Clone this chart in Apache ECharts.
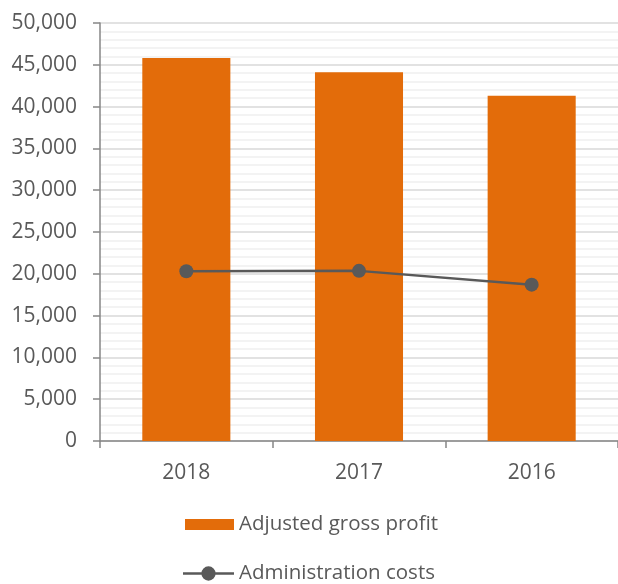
<!DOCTYPE html>
<html><head><meta charset="utf-8">
<script src="https://cdn.jsdelivr.net/npm/echarts@6/dist/echarts.min.js"></script>
<style>html,body{margin:0;padding:0;background:#fff}#c{width:618px;height:584px}</style>
</head><body><div id="c"></div>
<script>
var categories = ['2018', '2017', '2016'];
var grossProfit = [45800, 44100, 41300];
var adminCosts = [20300, 20350, 18700];
var seriesNames = ['Adjusted gross profit', 'Administration costs'];

var font = 'Open Sans';
var txt = '#595959';
var lineIcon = 'path://M0,6.3 L50,6.3 L50,8.7 L0,8.7 Z M18,7.5 A7,7 0 1,1 32,7.5 A7,7 0 1,1 18,7.5 Z';
var chart = echarts.init(document.getElementById('c'));
chart.setOption({
  animation: false,
  textStyle: {fontFamily: font},
  grid: {left: 100, right: 0, top: 23, bottom: 143, containLabel: false},
  legend: [
    {
      left: 180, top: 509, itemWidth: 49, itemHeight: 11, itemGap: 6,
      textStyle: {color: txt, fontSize: 20.5, fontFamily: font},
      data: [{name: seriesNames[0], icon: 'rect'}]
    },
    {
      left: 178, top: 558, itemWidth: 51, itemHeight: 15, itemGap: 6,
      textStyle: {color: txt, fontSize: 20.5, fontFamily: font},
      data: [{name: seriesNames[1], icon: lineIcon}]
    }
  ],
  xAxis: {
    type: 'category', data: categories, boundaryGap: true,
    axisLine: {lineStyle: {color: '#868686', width: 1.5}},
    axisTick: {show: true, alignWithLabel: false, length: 7, lineStyle: {color: '#868686', width: 1.5}},
    axisLabel: {color: txt, fontSize: 21, margin: 22}
  },
  yAxis: {
    type: 'value', min: 0, max: 50000, interval: 5000,
    axisLine: {show: true, lineStyle: {color: '#868686', width: 1.5}},
    axisTick: {show: true, length: 7, lineStyle: {color: '#868686', width: 1.5}},
    axisLabel: {color: txt, fontSize: 21, margin: 23,
      formatter: function (v) { return v.toLocaleString('en-US'); }},
    splitLine: {lineStyle: {color: '#d9d9d9', width: 1.5}},
    minorTick: {show: false, splitNumber: 5},
    minorSplitLine: {show: true, lineStyle: {color: '#efefef', width: 1.5}}
  },
  series: [
    {name: seriesNames[0], type: 'bar', data: grossProfit, barWidth: '51%',
      itemStyle: {color: '#e36c0a'}},
    {name: seriesNames[1], type: 'line', data: adminCosts,
      symbol: 'circle', symbolSize: 14,
      lineStyle: {color: '#595959', width: 2.5},
      itemStyle: {color: '#595959'}}
  ]
});
</script></body></html>
